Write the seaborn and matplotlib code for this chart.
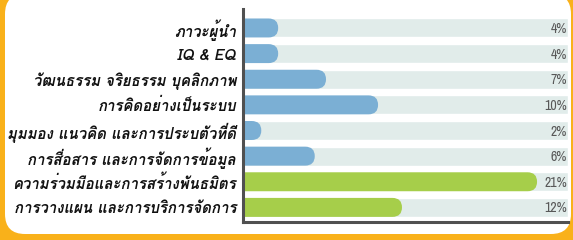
import matplotlib
matplotlib.use("Agg")
import matplotlib.pyplot as plt
import matplotlib.font_manager as fm
from matplotlib.ft2font import FT2Font
from matplotlib.patches import FancyBboxPatch
import seaborn as sns

# data
labels = [
    "ภาวะผู้นำ",
    "IQ & EQ",
    "วัฒนธรรม จริยธรรม บุคลิกภาพ",
    "การคิดอย่างเป็นระบบ",
    "มุมมอง แนวคิด และการประบตัวที่ดี",
    "การสื่อสาร และการจัดการข้อมูล",
    "ความร่วมมือและการสร้างพันธมิตร",
    "การวางแผน และการบริการจัดการ",
]
pct_labels = ["4%", "4%", "7%", "10%", "2%", "6%", "21%", "12%"]
bar_length = [2.5, 2.5, 5.9, 9.6, 1.3, 5.1, 20.9, 11.3]
group = ["blue", "blue", "blue", "blue", "blue", "blue", "green", "green"]
track_max = 23.1

COLORS = {"blue": "#7BAFD4", "green": "#A6CE4A"}
ORANGE = "#F9B11A"
TRACK = "#E1ECEA"
SPINE = "#505050"


def find_font_with(char):
    code = ord(char)
    found = []
    for f in fm.fontManager.ttflist:
        try:
            if code in FT2Font(f.fname).get_charmap():
                found.append(f.name)
        except Exception:
            continue
    return found


thai_fonts = find_font_with("ก")
narrow = [f.name for f in fm.fontManager.ttflist if "Narrow" in f.name]

sns.set_theme(style="white")
plt.rcParams["font.family"] = (thai_fonts[:1] + ["DejaVu Sans"])

fig = plt.figure(figsize=(5.73, 2.4), dpi=100)
fig.patch.set_facecolor(ORANGE)

# white rounded panel
panel = FancyBboxPatch((0.05, 0.06), 5.66, 2.40, boxstyle="round,pad=0,rounding_size=0.2",
                       transform=fig.dpi_scale_trans, facecolor="white", edgecolor="none",
                       zorder=-10)
fig.patches.append(panel)

ax = fig.add_axes([243 / 573, 18 / 240, 325 / 573, 213 / 240])
ax.set_facecolor("none")

# background tracks
sns.barplot(x=[track_max] * len(labels), y=labels, color=TRACK, width=0.74,
            orient="h", ax=ax, saturation=1)
n_track = len(ax.patches)

sns.barplot(x=bar_length, y=labels, hue=group, palette=COLORS, width=0.74,
            orient="h", ax=ax, saturation=1, legend=False, dodge=False)

ax.set_xlim(0, track_max)
ax.set_ylim(7.57, -0.74)

# rounded right ends for value bars
aspect = (1 / 25.6) / (1 / 14.0)
r = 9.5 / 14.0
for p in list(ax.patches[n_track:]):
    x, y = p.get_x(), p.get_y()
    w, h = p.get_width(), p.get_height()
    if w == 0:
        p.remove()
        continue
    fc = p.get_facecolor()
    p.remove()
    rb = FancyBboxPatch((x - r, y), w + r, h,
                        boxstyle=f"round,pad=0,rounding_size={r}",
                        mutation_aspect=aspect, facecolor=fc, edgecolor="none")
    ax.add_patch(rb)

pct_font = narrow[:1] + ["DejaVu Sans"]
for i, t in enumerate(pct_labels):
    ax.text(track_max - 0.05, i + 0.04, t, ha="right", va="center", fontsize=10,
            color="#585858", fontweight="bold", family=pct_font)

ax.set_xlabel("")
ax.set_ylabel("")
ax.set_xticks([])
ax.tick_params(axis="y", length=0, pad=5)
for lbl in ax.get_yticklabels():
    lbl.set_fontsize(10.8)
    lbl.set_fontstyle("italic")
    lbl.set_fontweight("bold")
    lbl.set_color("#111111")

for s in ["top", "right"]:
    ax.spines[s].set_visible(False)
for s in ["left", "bottom"]:
    ax.spines[s].set_color(SPINE)
    ax.spines[s].set_linewidth(2.2)

fig.savefig("out.png", dpi=100, facecolor=fig.get_facecolor())
